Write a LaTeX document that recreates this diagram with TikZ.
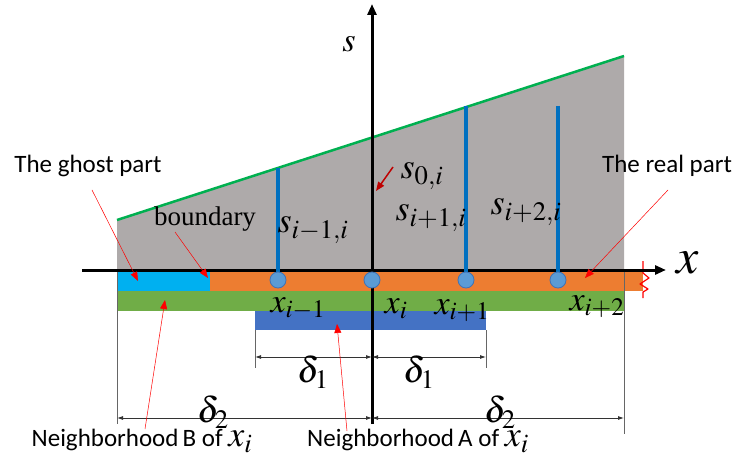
\documentclass[tikz,border=0pt]{standalone}
\usepackage{mathptmx}
\usepackage{fontspec}
\setmainfont{Liberation Serif}
\newfontfamily\calib{Carlito}
\usetikzlibrary{arrows.meta}
\definecolor{fondgris}{RGB}{174,170,170}
\definecolor{vertligne}{RGB}{0,176,80}
\definecolor{cyanpart}{RGB}{0,176,240}
\definecolor{orangepart}{RGB}{237,125,49}
\definecolor{vertpart}{RGB}{112,173,71}
\definecolor{bleupart}{RGB}{68,114,196}
\definecolor{bleubarre}{RGB}{0,112,192}
\definecolor{bleurond}{RGB}{91,155,213}
\definecolor{bleutrait}{RGB}{65,114,180}

\begin{document}
\begin{tikzpicture}[
    x=1pt, y=-1pt,
    axe/.style={line width=3pt, -{Triangle[length=11pt,width=9pt]}},
    barre/.style={bleubarre, line width=4.5pt},
    rond/.style={circle, fill=bleurond, draw=bleutrait, line width=0.8pt, minimum size=16pt, inner sep=0pt},
    cote/.style={black!80, line width=0.8pt, {Latex[length=6pt,width=4pt]}-{Latex[length=6pt,width=4pt]}},
    rappel/.style={black!60, line width=0.6pt},
    fleche/.style={red, line width=0.5pt, -{Triangle[length=9pt,width=7pt]}},
    texte/.style={inner sep=0pt, font=\calib\fontsize{25}{29}\selectfont},
    maths/.style={inner sep=0pt, font=\fontsize{36}{40}\selectfont},
  ]
  \useasboundingbox (0,0) rectangle (737,468);
  % zone grise sous la droite
  \fill[fondgris] (117,270) -- (117,220) -- (624,56) -- (624,270) -- cycle;
  \draw[vertligne, line width=2.5pt] (117,220) -- (624,56);
  % bandes
  \fill[cyanpart] (117,272) rectangle (210,291);
  \fill[orangepart] (210,272) rectangle (643,291);
  \fill[vertpart] (117,291) rectangle (624,311);
  \fill[bleupart] (255,311) rectangle (486,330);
  % lignes de rappel
  \draw[rappel] (117,272) -- (117,424);
  \draw[rappel] (624,272) -- (624,434);
  \draw[rappel] (255,330) -- (255,368);
  \draw[rappel] (486,330) -- (486,368);
  % zigzag rouge
  \draw[red, line width=1.2pt, line join=round] (643,261) -- (643,273) -- (649,278) -- (640,284) -- (648,289) -- (643,292) -- (643,298);
  % axes
  \coordinate (xdeb) at (82,270);
  \coordinate (xfin) at (666,270);
  \coordinate (sdeb) at (372,424);
  \coordinate (sfin) at (372,4);
  \draw[axe] (xdeb) -- (xfin);
  \draw[axe] (sdeb) -- (sfin);
  \node[maths, font=\fontsize{50}{54}\selectfont] (xlab) at (688,263) {$x$};
  \node[maths, font=\fontsize{34}{38}\selectfont] (slab) at (349,44) {$s$};
  % barres bleues et points
  \foreach \nom/\px/\haut in {a/278/168, b/466/106, c/558/106} {
    \draw[barre] (\px,\haut) -- (\px,278);
  }
  \foreach \nom/\px in {a/278, o/372, b/466, c/558} {
    \node[rond] (p\nom) at (\px,280) {};
  }
  % etiquettes
  \node[maths] (sm) at (313,230) {$s_{i-1,i}$};
  \node[maths] (sp) at (431,218) {$s_{i+1,i}$};
  \node[maths] (spp) at (526,212) {$s_{i+2,i}$};
  \node[maths] (szero) at (422,176) {$s_{0,i}$};
  \node[maths, font=\fontsize{34}{38}\selectfont] (xm) at (298,309) {$x_{i-1}$};
  \node[maths, font=\fontsize{34}{38}\selectfont] (xo) at (396,309) {$x_{i}$};
  \node[maths, font=\fontsize{34}{38}\selectfont] (xp) at (462,311) {$x_{i+1}$};
  \node[maths, font=\fontsize{34}{38}\selectfont] (xpp) at (597,307) {$x_{i+2}$};
  % cotes
  \coordinate (ua) at (255,357);
  \coordinate (ub) at (372,357);
  \coordinate (uc) at (486,357);
  \coordinate (da) at (117,418);
  \coordinate (db) at (372,418);
  \coordinate (dc) at (624,418);
  \draw[cote] (ua) -- (ub);
  \draw[cote] (ub) -- (uc);
  \draw[cote] (da) -- (db);
  \draw[cote] (db) -- (dc);
  \node[maths] (una) at (313,372) {$\delta_1$};
  \node[maths] (unb) at (419,372) {$\delta_1$};
  \node[maths] (deuxa) at (213,412) {$\delta_2$};
  \node[maths] (deuxb) at (500,412) {$\delta_2$};
  % textes
  \node[texte] (ghost) at (88,166) {The ghost part};
  \node[texte] (real) at (667,166) {The real part};
  \node[inner sep=0pt, font=\fontsize{27}{30}\selectfont] (bord) at (205,219) {boundary};
  \node[texte] (voisB) at (142,441) {Neighborhood\,B of \fontsize{36}{40}\selectfont$x_i$};
  \node[texte] (voisA) at (418,441) {Neighborhood\,A of \fontsize{36}{40}\selectfont$x_i$};
  % fleches rouges
  \coordinate (cghost) at (138,281);
  \coordinate (cbord) at (208,278);
  \coordinate (creal) at (585,278);
  \coordinate (cB) at (165,300);
  \coordinate (cA) at (337,324);
  \coordinate (czero) at (376,191);
  \draw[fleche] (92,190) -- (cghost);
  \draw[fleche] (175,232) -- (cbord);
  \draw[fleche] (668,190) -- (creal);
  \draw[fleche] (145,429) -- (cB);
  \draw[fleche] (347,431) -- (cA);
  \draw[fleche, red!75!black, line width=1.5pt] (393,167) -- (czero);
\end{tikzpicture}
\end{document}
